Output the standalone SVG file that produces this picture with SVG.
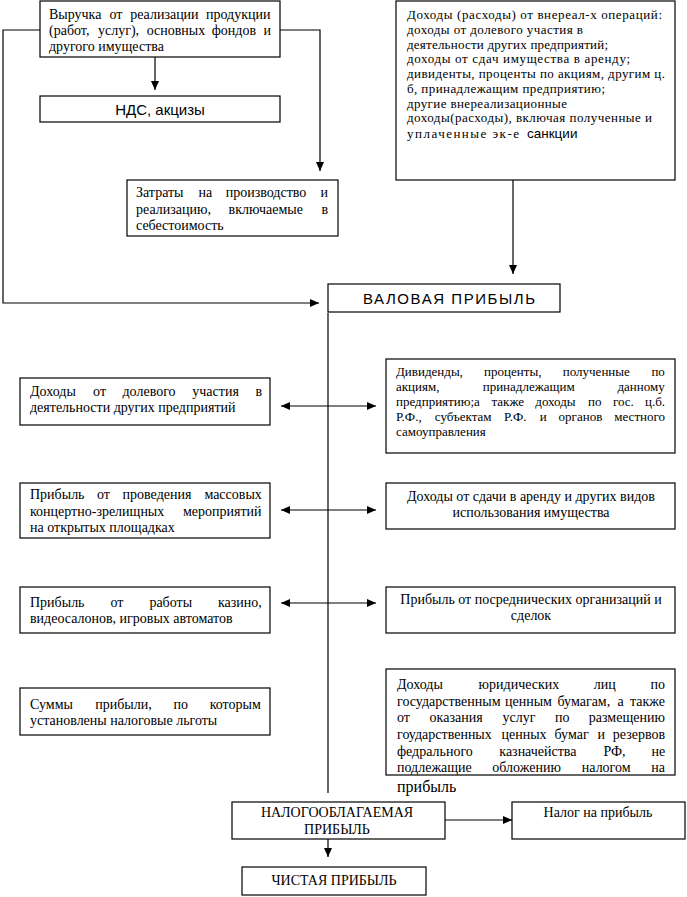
<svg xmlns="http://www.w3.org/2000/svg" width="687" height="897" viewBox="0 0 687 897">
<style>
rect{fill:#fff;stroke:#000;stroke-width:1.2}
.c{text-anchor:middle}
.sm{font-size:13px}
#connectors path{fill:none;stroke:#000;stroke-width:1.2}
</style>
<defs>
<marker id="ah" markerUnits="userSpaceOnUse" markerWidth="10" markerHeight="8" refX="9" refY="4" orient="auto-start-reverse">
<path d="M0,0 L9,4 L0,8 z" fill="#000"/>
</marker>
</defs>
<rect x="0" y="0" width="687" height="897" style="stroke:none"/>
<g id="connectors">
<path d="M155,57 V90" marker-end="url(#ah)"/>
<path d="M280,30 H320 V171" marker-end="url(#ah)"/>
<path d="M40,30 H3 V303 H319" marker-end="url(#ah)"/>
<path d="M513,180 V274" marker-end="url(#ah)"/>
<path d="M328,313 V793"/>
<path d="M281,406 H376" marker-start="url(#ah)" marker-end="url(#ah)"/>
<path d="M281,510 H376" marker-start="url(#ah)" marker-end="url(#ah)"/>
<path d="M281,603 H376" marker-start="url(#ah)" marker-end="url(#ah)"/>
<path d="M445,820 H512" marker-end="url(#ah)"/>
<path d="M328,839 V857" marker-end="url(#ah)"/>
</g>
<g font-family="Liberation Serif, Times New Roman, serif" font-size="14" fill="#000">
<g id="revenue">
<rect x="40" y="1" width="240" height="56"/>
<text y="19"><tspan x="49">Выручка</tspan><tspan x="109.4">от</tspan><tspan x="130.2">реализации</tspan><tspan x="206">продукции</tspan></text>
<text y="35"><tspan x="49">(работ,</tspan><tspan x="98">услуг),</tspan><tspan x="146.7">основных</tspan><tspan x="211.8">фондов</tspan><tspan x="263.5">и</tspan></text>
<text x="49" y="51">другого имущества</text>
</g>
<g id="vat">
<rect x="40" y="96" width="240" height="26"/>
<text class="c" x="160" y="115" font-family="Liberation Sans, Arial, sans-serif" font-size="15">НДС, акцизы</text>
</g>
<g id="costs">
<rect x="127" y="180" width="211" height="56"/>
<text y="197"><tspan x="136">Затраты</tspan><tspan x="198.4">на</tspan><tspan x="225.7">производство</tspan><tspan x="320.5">и</tspan></text>
<text y="214"><tspan x="136">реализацию,</tspan><tspan x="228.6">включаемые</tspan><tspan x="321.4">в</tspan></text>
<text x="136" y="230">себестоимость</text>
</g>
<g id="nonoperating" class="sm">
<rect x="396" y="1" width="279" height="179"/>
<text x="407" y="19" textLength="255" lengthAdjust="spacing">Доходы (расходы) от внереал-х операций:</text>
<text x="407" y="34" textLength="176" lengthAdjust="spacing">доходы от долевого участия в</text>
<text x="407" y="49" textLength="201" lengthAdjust="spacing">деятельности других предприятий;</text>
<text x="407" y="63" textLength="223" lengthAdjust="spacing">доходы от сдач имущества в аренду;</text>
<text x="407" y="78" textLength="258" lengthAdjust="spacing">дивиденты, проценты по акциям, другим ц.</text>
<text x="407" y="93" textLength="198" lengthAdjust="spacing">б, принадлежащим предприятию;</text>
<text x="407" y="108" textLength="160" lengthAdjust="spacing">другие внереализационные</text>
<text x="407" y="122" textLength="245" lengthAdjust="spacing">доходы(расходы), включая полученные и</text>
<text x="407" y="138" textLength="112" lengthAdjust="spacing">уплаченные эк-е</text>
<text x="527" y="138" font-family="Liberation Sans, Arial, sans-serif" font-size="13.5">санкции</text>
</g>
<g id="gross">
<rect x="328" y="284" width="232" height="28"/>
<text x="363" y="304" font-family="Liberation Sans, Arial, sans-serif" font-size="15" textLength="172" lengthAdjust="spacing">ВАЛОВАЯ ПРИБЫЛЬ</text>
</g>
<g id="l1">
<rect x="20" y="378" width="250" height="47"/>
<text y="396"><tspan x="30">Доходы</tspan><tspan x="93.1">от</tspan><tspan x="122.5">долевого</tspan><tspan x="192.3">участия</tspan><tspan x="255.4">в</tspan></text>
<text x="30" y="412">деятельности других предприятий</text>
</g>
<g id="l2">
<rect x="20" y="483" width="250" height="55"/>
<text y="499"><tspan x="30">Прибыль</tspan><tspan x="97">от</tspan><tspan x="122.6">проведения</tspan><tspan x="204.4">массовых</tspan></text>
<text y="516"><tspan x="30">концертно-зрелищных</tspan><tspan x="183">мероприятий</tspan></text>
<text x="30" y="532">на открытых площадках</text>
</g>
<g id="l3">
<rect x="20" y="587" width="250" height="46"/>
<text y="607"><tspan x="30">Прибыль</tspan><tspan x="110.4">от</tspan><tspan x="149.4">работы</tspan><tspan x="218">казино,</tspan></text>
<text x="30" y="623">видеосалонов, игровых автоматов</text>
</g>
<g id="l4">
<rect x="20" y="688" width="250" height="47"/>
<text y="709"><tspan x="30">Суммы</tspan><tspan x="95.2">прибыли,</tspan><tspan x="173.4">по</tspan><tspan x="209.7">которым</tspan></text>
<text x="30" y="725">установлены налоговые льготы</text>
</g>
<g id="r1" class="sm">
<rect x="386" y="359" width="289" height="94"/>
<text y="376"><tspan x="396">Дивиденды,</tspan><tspan x="484.1">проценты,</tspan><tspan x="562.8">полученные</tspan><tspan x="651.4">по</tspan></text>
<text y="391"><tspan x="396">акциям,</tspan><tspan x="482.7">принадлежащим</tspan><tspan x="617.4">данному</tspan></text>
<text y="406"><tspan x="396">предприятию;а</tspan><tspan x="491.5">также</tspan><tspan x="535.3">доходы</tspan><tspan x="588.1">по</tspan><tspan x="612.9">гос.</tspan><tspan x="645">ц.б.</tspan></text>
<text y="421"><tspan x="396">Р.Ф.,</tspan><tspan x="434.8">субъектам</tspan><tspan x="504.1">Р.Ф.</tspan><tspan x="539.7">и</tspan><tspan x="558.6">органов</tspan><tspan x="614.3">местного</tspan></text>
<text x="396" y="436">самоуправления</text>
</g>
<g id="r2">
<rect x="386" y="483" width="289" height="46"/>
<text class="c" x="531" y="501">Доходы от сдачи в аренду и других видов</text>
<text class="c" x="531" y="517">использования имущества</text>
</g>
<g id="r3">
<rect x="386" y="587" width="289" height="46"/>
<text class="c" x="531" y="604">Прибыль от посреднических организаций и</text>
<text class="c" x="531" y="620">сделок</text>
</g>
<g id="r4">
<rect x="386" y="669" width="289" height="106"/>
<text y="689"><tspan x="397">Доходы</tspan><tspan x="478.6">юридических</tspan><tspan x="593.7">лиц</tspan><tspan x="650.4">по</tspan></text>
<text y="706"><tspan x="397">государственным</tspan><tspan x="505">ценным</tspan><tspan x="557.5">бумагам,</tspan><tspan x="617.5">а</tspan><tspan x="630">также</tspan></text>
<text y="722"><tspan x="397">от</tspan><tspan x="429.6">оказания</tspan><tspan x="502.6">услуг</tspan><tspan x="554.9">по</tspan><tspan x="588.8">размещению</tspan></text>
<text y="739"><tspan x="397">гоударственных</tspan><tspan x="501.5">ценных</tspan><tspan x="554.5">бумаг</tspan><tspan x="597.4">и</tspan><tspan x="612.8">резервов</tspan></text>
<text y="756"><tspan x="397">федрального</tspan><tspan x="499.3">казначейства</tspan><tspan x="603.4">РФ,</tspan><tspan x="651.4">не</tspan></text>
<text y="772"><tspan x="397">подлежащие</tspan><tspan x="492.3">обложению</tspan><tspan x="581.8">налогом</tspan><tspan x="651.2">на</tspan></text>
<text x="397" y="792" font-size="16">прибыль</text>
</g>
<g id="taxable">
<rect x="232" y="802" width="213" height="37"/>
<text class="c" x="337" y="817">НАЛОГООБЛАГАЕМАЯ</text>
<text class="c" x="337" y="834">ПРИБЫЛЬ</text>
</g>
<g id="tax">
<rect x="512" y="802" width="173" height="37"/>
<text class="c" x="598" y="817">Налог на прибыль</text>
</g>
<g id="net">
<rect x="242" y="867" width="184" height="28"/>
<text class="c" x="334" y="885">ЧИСТАЯ ПРИБЫЛЬ</text>
</g>
</g>
</svg>
